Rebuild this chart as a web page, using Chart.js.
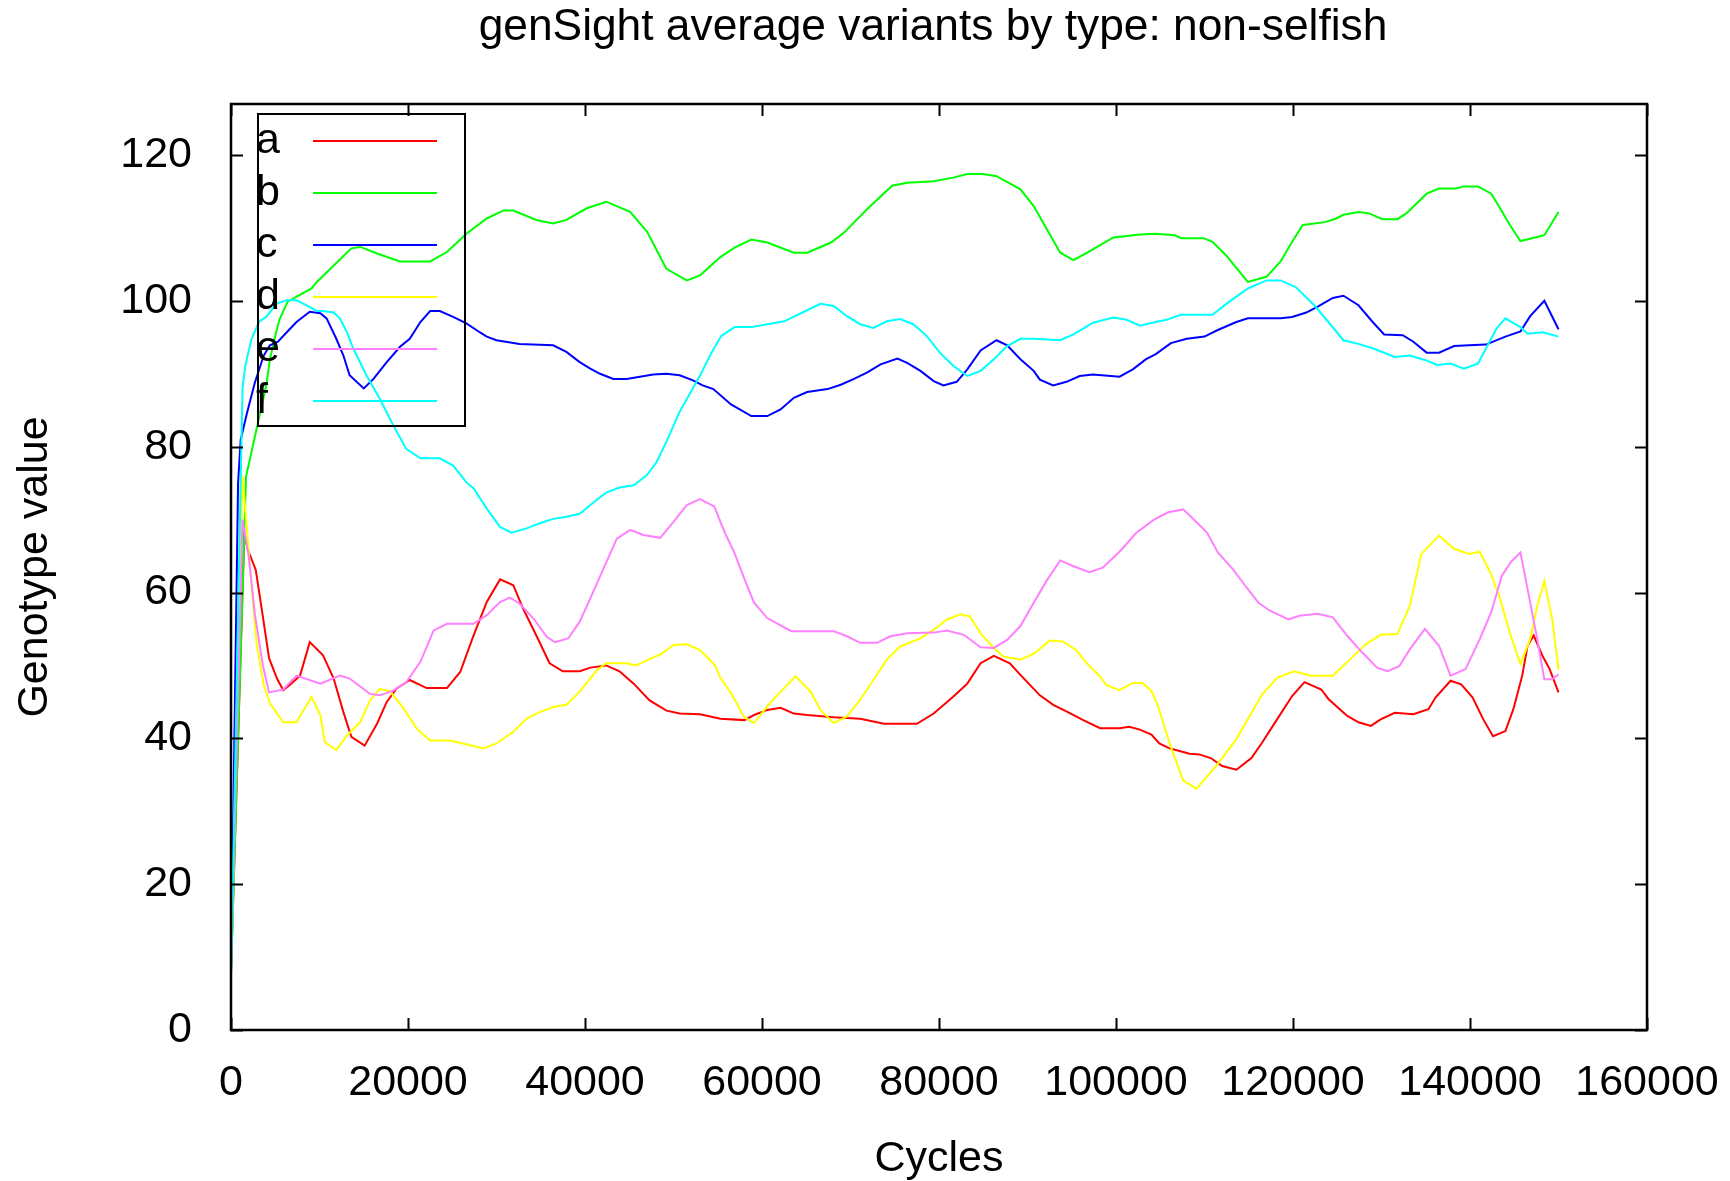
<!DOCTYPE html>
<html>
<head>
<meta charset="utf-8">
<title>genSight average variants by type: non-selfish</title>
<script src="https://cdn.jsdelivr.net/npm/chart.js@4.4.1/dist/chart.umd.min.js"></script>
<style>
  html, body { margin: 0; padding: 0; background: #fff; }
  #wrap { width: 1730px; height: 1181px; }
</style>
</head>
<body>
<div id="wrap"><canvas id="chart" width="1730" height="1181"></canvas></div>
<script>
const chartTitle = 'genSight average variants by type: non-selfish';
const xTitle = 'Cycles';
const yTitle = 'Genotype value';
const xTicks = [0, 20000, 40000, 60000, 80000, 100000, 120000, 140000, 160000];
const yTicks = [0, 20, 40, 60, 80, 100, 120];
const seriesNames = ['a', 'b', 'c', 'd', 'e', 'f'];
const seriesColors = ['#ff0000', '#00ff00', '#0000ff', '#ffff00', '#ff80ff', '#00ffff'];

// [cycle, value]
const a = [[0,8],[1500,68],[1900,65.9],[2800,63.1],[3600,56.7],[4300,51],[5200,48.2],[5900,46.6],[6700,47.4],[7800,48.6],
  [8900,53.2],[10400,51.4],[11600,48.2],[12700,43.6],[13600,40.2],[15100,39],[16500,42],[17600,45],[18700,46.8],[20200,48],
  [22100,46.9],[24400,46.9],[25900,49.1],[27400,54.1],[28900,58.7],[30400,61.8],[31900,61],[33000,57.8],[34500,54.1],[36000,50.3],
  [37500,49.2],[39400,49.2],[40600,49.7],[42400,50],[43900,49.2],[45500,47.5],[47300,45.2],[49200,43.8],[50700,43.4],[53000,43.3],
  [55300,42.7],[58000,42.5],[59100,43.2],[60600,43.9],[62100,44.2],[63600,43.4],[65100,43.2],[68100,42.9],[71100,42.7],[73800,42],
  [77500,42],[79400,43.4],[81600,45.7],[83200,47.5],[84700,50.3],[86200,51.3],[88000,50.3],[89200,48.7],[91400,45.9],[92900,44.6],
  [94400,43.7],[96300,42.5],[98200,41.4],[100400,41.4],[101500,41.6],[102700,41.2],[104000,40.5],[104900,39.3],[106100,38.6],[107400,38.2],
  [108300,37.9],[109400,37.8],[110700,37.3],[112000,36.2],[113600,35.7],[115300,37.3],[116500,39.4],[118200,42.6],[119900,45.8],[121300,47.7],
  [123200,46.7],[124000,45.4],[126100,43.1],[127400,42.2],[128800,41.7],[129900,42.6],[131500,43.5],[133600,43.3],[135300,44],[136100,45.6],
  [137800,47.9],[139000,47.4],[140300,45.6],[141500,42.6],[142600,40.3],[144000,41],[144900,44],[145900,48.6],[146500,52.7],[147200,54.1],
  [148200,51.3],[149000,49.5],[150000,46.3]];
const b = [[0,8],[1700,75.9],[2900,82.5],[4000,88.5],[4400,92],[5100,95.7],[5500,97.5],[6400,99.9],[9100,101.7],[9700,102.6],
  [13600,107.2],[14600,107.4],[16500,106.5],[19100,105.4],[22500,105.4],[24400,106.7],[26600,109.2],[28900,111.3],[30800,112.4],[31900,112.4],
  [34500,111.1],[36400,110.6],[37900,111.1],[40200,112.7],[42400,113.6],[45100,112.2],[47000,109.5],[49200,104.4],[51500,102.8],[53000,103.5],
  [55300,106],[56900,107.3],[58800,108.4],[60600,108],[63600,106.6],[65100,106.6],[67800,108],[69300,109.4],[71900,112.6],[74700,115.8],
  [76400,116.2],[79400,116.4],[81600,116.9],[83200,117.4],[85000,117.4],[86500,117.1],[89200,115.3],[90700,113],[92200,109.8],[93700,106.6],
  [95200,105.6],[97000,106.8],[99700,108.7],[102700,109.1],[104500,109.2],[106600,109],[107400,108.6],[109900,108.6],[110900,108.1],[112400,106.3],
  [114900,102.6],[117000,103.3],[118600,105.4],[119900,108.1],[121100,110.4],[123600,110.8],[124900,111.3],[125700,111.8],[127400,112.2],[128600,112],
  [130100,111.2],[131800,111.2],[132800,112],[134000,113.4],[135100,114.7],[136500,115.4],[138400,115.4],[139300,115.7],[140900,115.7],[142400,114.7],
  [143200,113.1],[144500,110.4],[145700,108.2],[147000,108.6],[148400,109],[150000,112.2]];
const c = [[0,8],[800,75],[1100,81],[1800,84.6],[2700,88.8],[3700,92.5],[4400,93.9],[5300,94.4],[6300,95.7],[7400,97.1],
  [8900,98.5],[10100,98.3],[10800,97.6],[11900,94.8],[12700,92.5],[13400,89.8],[15000,88],[16100,89.3],[17600,91.6],[19100,93.7],
  [20200,94.8],[21400,97.1],[22500,98.6],[23600,98.6],[25100,97.8],[26600,96.9],[28100,95.7],[28900,95.1],[30000,94.6],[32600,94.1],
  [36400,93.9],[37900,93],[39400,91.6],[40600,90.7],[41700,90],[43200,89.3],[44700,89.3],[47700,89.9],[49200,90],[50700,89.8],
  [52200,89.1],[53300,88.4],[54500,87.9],[56500,85.8],[58800,84.2],[60600,84.2],[62100,85.1],[63600,86.7],[65100,87.5],[67400,87.9],
  [68900,88.5],[70400,89.3],[71900,90.2],[73400,91.3],[75300,92.1],[76400,91.5],[77900,90.4],[79400,89],[80500,88.4],[82000,88.9],
  [83200,90.6],[84700,93.2],[86500,94.6],[87700,93.9],[89200,92],[90700,90.4],[91400,89.2],[92900,88.4],[94400,88.9],[95900,89.7],
  [97400,89.9],[100400,89.6],[101900,90.6],[103400,92],[104500,92.7],[106200,94.2],[108000,94.8],[110000,95.1],[111500,96],[113600,97.1],
  [114900,97.6],[118600,97.6],[119900,97.8],[121500,98.4],[122800,99.2],[124500,100.4],[125700,100.7],[127400,99.4],[129000,97.1],[130300,95.4],
  [132400,95.3],[133600,94.4],[135100,92.9],[136500,92.9],[138200,93.8],[139900,93.9],[141800,94],[144000,95.1],[145700,95.8],[146800,97.9],
  [148400,100],[150000,96.1]];
const d = [[0,8],[1300,76],[2500,58.3],[2900,53],[3700,47.3],[4400,44.8],[5900,42.2],[7400,42.2],[9100,45.7],[10100,43.2],
  [10600,39.5],[11900,38.4],[13100,40.4],[14600,42.2],[15700,45.2],[16800,46.8],[18000,46.4],[19500,44.1],[21000,41.3],[22500,39.7],
  [24700,39.7],[26200,39.3],[28500,38.6],[30000,39.3],[31900,40.9],[33400,42.7],[34900,43.6],[36400,44.3],[37900,44.6],[39400,46.4],
  [41300,49.3],[42400,50.3],[44700,50.3],[45800,50],[47300,50.9],[48500,51.5],[50000,52.8],[51500,52.9],[53000,52.1],[54700,50],
  [55300,48.3],[56500,46.2],[58000,42.9],[59100,42.1],[60600,44.4],[62100,46.4],[63800,48.5],[65500,46.4],[66600,43.9],[68100,42.1],
  [69600,43],[71100,45.3],[72600,48],[74100,50.8],[75600,52.6],[77900,53.7],[79400,54.9],[80900,56.3],[82400,57],[83500,56.7],
  [84700,54.4],[86200,52.4],[87300,51.2],[89200,50.8],[90700,51.6],[92500,53.4],[94000,53.3],[95500,52.1],[96700,50.3],[98200,48.5],
  [98900,47.3],[100400,46.6],[101900,47.6],[103000,47.6],[104000,46.5],[104700,44.6],[105700,40.7],[106200,38.8],[107600,34.2],[109100,33.1],
  [111300,36.2],[113600,39.9],[116500,46],[118200,48.3],[120100,49.2],[122000,48.6],[124500,48.6],[126500,50.9],[128200,52.9],[129900,54.2],
  [131800,54.3],[133200,58.2],[134500,65.3],[136500,67.8],[138200,66],[139900,65.3],[141100,65.6],[142400,62.5],[143400,59.1],[144500,54.5],
  [145700,50.2],[146800,53.6],[147600,58.2],[148400,61.6],[149300,56.3],[150000,49.4]];
const e = [[0,8],[1300,70],[2000,65],[2700,57],[3600,50],[4300,46.3],[5900,46.7],[7400,48.6],[10100,47.5],[12300,48.6],
  [13400,48.2],[15700,46.1],[16800,45.9],[18300,46.5],[19800,47.7],[21400,50.5],[22900,54.8],[24400,55.7],[27400,55.7],[28900,56.9],
  [30400,58.7],[31500,59.3],[32600,58.5],[34200,56.4],[35700,53.9],[36600,53.2],[38100,53.7],[39400,56],[40600,59.2],[42100,63.3],
  [43600,67.4],[45100,68.6],[46600,67.9],[48500,67.5],[50000,69.7],[51500,72],[53000,72.8],[54600,71.8],[55800,68.2],[56900,65.4],
  [58000,61.9],[59100,58.6],[60600,56.5],[63300,54.7],[68100,54.7],[69600,54],[71100,53.1],[73000,53.1],[74500,54],[76400,54.4],
  [79400,54.5],[80900,54.8],[82800,54.2],[84700,52.5],[86200,52.4],[87700,53.5],[89200,55.4],[90700,58.6],[92200,61.7],[93700,64.4],
  [95200,63.6],[97000,62.8],[98500,63.4],[100400,65.6],[102300,68.2],[104300,70],[105900,71],[107600,71.4],[109400,69.3],[110300,68.2],
  [111500,65.5],[113200,63.2],[114500,61.1],[116100,58.6],[117400,57.5],[119500,56.3],[120700,56.8],[122800,57.1],[124500,56.6],[126100,54.1],
  [127800,51.8],[129500,49.7],[130700,49.2],[132000,49.9],[133200,52.2],[134900,55],[136500,52.7],[137800,48.6],[139500,49.5],[141100,53.6],
  [142400,57.3],[143600,62.3],[144700,64.3],[145700,65.5],[146500,60.5],[147600,53.6],[148400,48.1],[149300,48.1],[150000,48.8]];
const f = [[0,7],[1300,88],[1600,91],[2300,94.7],[3200,97.2],[4000,97.8],[5100,99.6],[6300,100.1],[7400,100.1],[8500,99.4],
  [9700,98.6],[10400,98.6],[11600,98.4],[12300,97.6],[13100,95.7],[13800,93.5],[15300,89.8],[16800,86.6],[18300,83],[19800,79.7],
  [21400,78.4],[23600,78.4],[25100,77.4],[26600,75.1],[27400,74.3],[28900,71.5],[30400,69],[31700,68.2],[33400,68.8],[34900,69.5],
  [36400,70.1],[37900,70.4],[39400,70.8],[41300,72.7],[42400,73.7],[43900,74.4],[45500,74.7],[47000,76.1],[48100,77.9],[49200,80.7],
  [50700,84.8],[51500,86.5],[53100,90],[54300,92.9],[55400,95.2],[56900,96.4],[58800,96.4],[60600,96.8],[62500,97.2],[64400,98.3],
  [66600,99.6],[68100,99.3],[69600,97.9],[71100,96.8],[72600,96.3],[74100,97.2],[75600,97.5],[77100,96.8],[78600,95.2],[80100,92.9],
  [81600,91.1],[83200,89.7],[84700,90.4],[86200,92],[87700,93.8],[89200,94.8],[90700,94.8],[93700,94.6],[95200,95.4],[97400,97],
  [99700,97.7],[101200,97.4],[102700,96.6],[104100,97],[105700,97.4],[107300,98.1],[109400,98.1],[110900,98.1],[112800,99.9],[114900,101.7],
  [117000,102.8],[118600,102.8],[120300,101.9],[122400,99.4],[124000,97.1],[125700,94.6],[127400,94.1],[129000,93.5],[131500,92.3],[133200,92.5],
  [134900,91.9],[136300,91.2],[137800,91.4],[139300,90.7],[140900,91.4],[142000,93.9],[143000,96.2],[144000,97.6],[145700,96.4],[146500,95.5],
  [148200,95.7],[150000,95.1]];
const seriesData = [a, b, c, d, e, f];

const FONT = 'Liberation Sans, Arial, Helvetica, sans-serif';

// gnuplot style: frame, inward mirrored ticks, boxed legend, title
const gnuplotFrame = {
  id: 'gnuplotFrame',
  afterDatasetsDraw(chart) {
    const { ctx, chartArea: { left, right, top, bottom }, scales: { x, y } } = chart;
    const tl = 12;
    ctx.save();
    ctx.strokeStyle = '#000';
    ctx.lineWidth = 2;
    ctx.beginPath();
    xTicks.forEach(v => {
      const px = Math.round(x.getPixelForValue(v)) + 0.5;
      ctx.moveTo(px, bottom); ctx.lineTo(px, bottom - tl);
      ctx.moveTo(px, top); ctx.lineTo(px, top + tl);
    });
    yTicks.forEach(v => {
      const py = Math.round(y.getPixelForValue(v)) + 0.5;
      ctx.moveTo(left, py); ctx.lineTo(left + tl, py);
      ctx.moveTo(right, py); ctx.lineTo(right - tl, py);
    });
    ctx.stroke();
    ctx.lineWidth = 2.5;
    ctx.strokeRect(left, top, right - left, bottom - top);

    // legend
    const bx = left + 27, by = top + 10, rowH = 52;
    ctx.lineWidth = 2;
    ctx.strokeRect(bx, by, 207, 312);
    ctx.font = '43px ' + FONT;
    ctx.textAlign = 'left';
    ctx.textBaseline = 'alphabetic';
    chart.data.datasets.forEach((ds, i) => {
      const ry = by + 27 + i * rowH;
      ctx.fillStyle = '#000';
      ctx.fillText(ds.label, bx - 2, ry + 12);
      ctx.strokeStyle = ds.borderColor;
      ctx.beginPath();
      ctx.moveTo(bx + 55, ry); ctx.lineTo(bx + 179, ry);
      ctx.stroke();
    });

    // title
    ctx.fillStyle = '#000';
    ctx.font = '44.3px ' + FONT;
    ctx.textAlign = 'center';
    ctx.fillText(chartTitle, (left + right) / 2 - 6, 40);
    ctx.restore();
  }
};

new Chart(document.getElementById('chart').getContext('2d'), {
  type: 'line',
  data: {
    datasets: seriesNames.map((name, i) => ({
      label: name,
      data: seriesData[i].map(p => ({ x: p[0], y: p[1] })),
      borderColor: seriesColors[i],
      backgroundColor: seriesColors[i],
      borderWidth: 2,
      pointRadius: 0,
      tension: 0,
      fill: false,
      order: seriesNames.length - i
    }))
  },
  options: {
    responsive: false,
    animation: false,
    devicePixelRatio: 1,
    layout: { padding: { top: 104, right: 83, left: 0, bottom: 0 } },
    plugins: {
      legend: { display: false },
      tooltip: { enabled: false },
      title: { display: false }
    },
    scales: {
      x: {
        type: 'linear',
        min: 0,
        max: 160000,
        afterBuildTicks: s => { s.ticks = xTicks.map(v => ({ value: v })); },
        afterFit: s => { s.height = 151; s.paddingLeft = 0; s.paddingRight = 0; },
        grid: { display: false },
        border: { display: false },
        ticks: {
          padding: 19,
          color: '#000',
          autoSkip: false,
          maxRotation: 0,
          font: { family: FONT, size: 43 },
          callback: v => String(v)
        },
        title: {
          display: true,
          text: xTitle,
          color: '#000',
          font: { family: FONT, size: 43, lineHeight: 1 },
          padding: 0
        }
      },
      y: {
        min: 0,
        max: 127,
        afterBuildTicks: s => { s.ticks = yTicks.map(v => ({ value: v })); },
        afterFit: s => { s.width = 231; s.paddingTop = 0; s.paddingBottom = 0; },
        grid: { display: false },
        border: { display: false },
        ticks: {
          padding: 31,
          color: '#000',
          font: { family: FONT, size: 43 },
          callback: v => String(v)
        },
        title: {
          display: true,
          text: yTitle,
          color: '#000',
          font: { family: FONT, size: 43, lineHeight: 1 },
          padding: { top: 14, bottom: 0 }
        }
      }
    }
  },
  plugins: [gnuplotFrame]
});
</script>
</body>
</html>
